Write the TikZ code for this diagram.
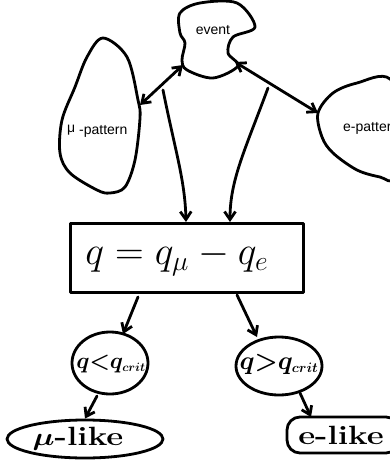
\documentclass[tikz,border=0pt]{standalone}
\usepackage{fontspec}
\setsansfont{Liberation Sans}
\usetikzlibrary{arrows.meta,shapes.geometric}
\begin{document}
\begin{tikzpicture}[x=1pt,y=-1pt,
  ink/.style={line width=2.8pt,line join=round,line cap=round},
  arr/.style={ink,-{Straight Barb[length=8pt,width=11pt]}},
  darr/.style={ink,{Straight Barb[length=8pt,width=11pt]}-{Straight Barb[length=8pt,width=11pt]}},
  lbl/.style={font=\sffamily\fontsize{14}{16}\selectfont,inner sep=0pt},
  big/.style={font=\bfseries\fontsize{22}{24}\selectfont,inner sep=0pt}]
\useasboundingbox (0,0) rectangle (390,466);
\begin{scope}
\clip (0,0) rectangle (390,466);
% event blob
\draw[ink] plot[smooth cycle,tension=0.55] coordinates {(180,13) (200,3) (237,3) (255,27) (233,37) (228,53) (238,66) (213,78) (187,70) (182,60) (185,43) (180,33)};
\node[lbl] (event) at (213,30) {event};
% mu pattern blob
\draw[ink] plot[smooth cycle,tension=0.55] coordinates {(103,38) (127,57) (138,100) (140,118) (135,160) (125,187) (110,193) (97,190) (70,173) (60,153) (62,120) (75,87) (87,57)};
\node[lbl,anchor=west] (mupat) at (67,131) {\raisebox{2pt}{μ} -pattern};
% e pattern blob
\draw[ink] plot[smooth cycle,tension=0.55] coordinates {(318,113) (333,93) (357,83) (390,79) (410,130) (395,178) (380,177) (357,170) (333,153) (322,137)};
\node[lbl,anchor=west] (epat) at (343,128) {e-pattern};
% e-like box (clipped)
\node[ink,draw,rounded corners=13pt,minimum width=112pt,minimum height=36pt,inner sep=0pt] (elike) at (343,435) {};
\end{scope}
\coordinate (evL) at (183,65);
\coordinate (evR) at (235,62);
\coordinate (muR) at (140,105);
\coordinate (eL) at (318,113);
\draw[darr] (evL) -- (muR);
\draw[darr] (evR) -- (eL);
\coordinate (sL) at (163,90);
\coordinate (sR) at (268,88);
% main box
\node[ink,draw,minimum width=233pt,minimum height=69pt,inner sep=0pt] (box) at (187,258) {};
\node[inner sep=0pt] (formula) at (177,259) {\scalebox{1.6}{\fontsize{24}{26}\selectfont$q = q_\mu - q_e$}};
\coordinate (bTL) at (186,222);
\coordinate (bTR) at (230,222);
\draw[arr] (sL) .. controls (175,150) and (185,180) .. (bTL);
\draw[arr] (sR) .. controls (245,150) and (230,180) .. (bTR);
% decision circles
\node[ink,draw,ellipse,minimum width=76pt,minimum height=62pt,inner sep=0pt] (cl) at (110,363) {};
\node[ink,draw,ellipse,minimum width=86pt,minimum height=58pt,inner sep=0pt] (cr) at (279,366) {};
\node[inner sep=0pt] (tl) at (111,364) {\scalebox{1.1}{\fontsize{22}{24}\selectfont\boldmath$q{<}q_{\scriptscriptstyle crit}$}};
\node[inner sep=0pt] (tr) at (279,364) {\scalebox{1.25}{\fontsize{22}{24}\selectfont\boldmath$q{>}q_{\scriptscriptstyle crit}$}};
\coordinate (bL) at (138,297);
\coordinate (bR) at (237,295);
\coordinate (clIn) at (123,334);
\coordinate (crIn) at (257,337);
\draw[arr] (bL) -- (clIn);
\draw[arr] (bR) -- (crIn);
% outcomes
\node[ink,draw,ellipse,minimum width=156pt,minimum height=38pt,inner sep=0pt] (mulike) at (85,439) {};
\node[big] (mut) at (78,439) {\scalebox{1.5}[1.2]{{\boldmath$\mu$}-like}};
\node[big] (et) at (341,435) {\scalebox{1.5}[1.2]{e-like}};
\coordinate (clo) at (97,396);
\coordinate (cro) at (300,393);
\coordinate (eTop) at (311,417);
\draw[arr] (clo) -- (mulike.north);
\draw[arr] (cro) -- (eTop);
\end{tikzpicture}
\end{document}
